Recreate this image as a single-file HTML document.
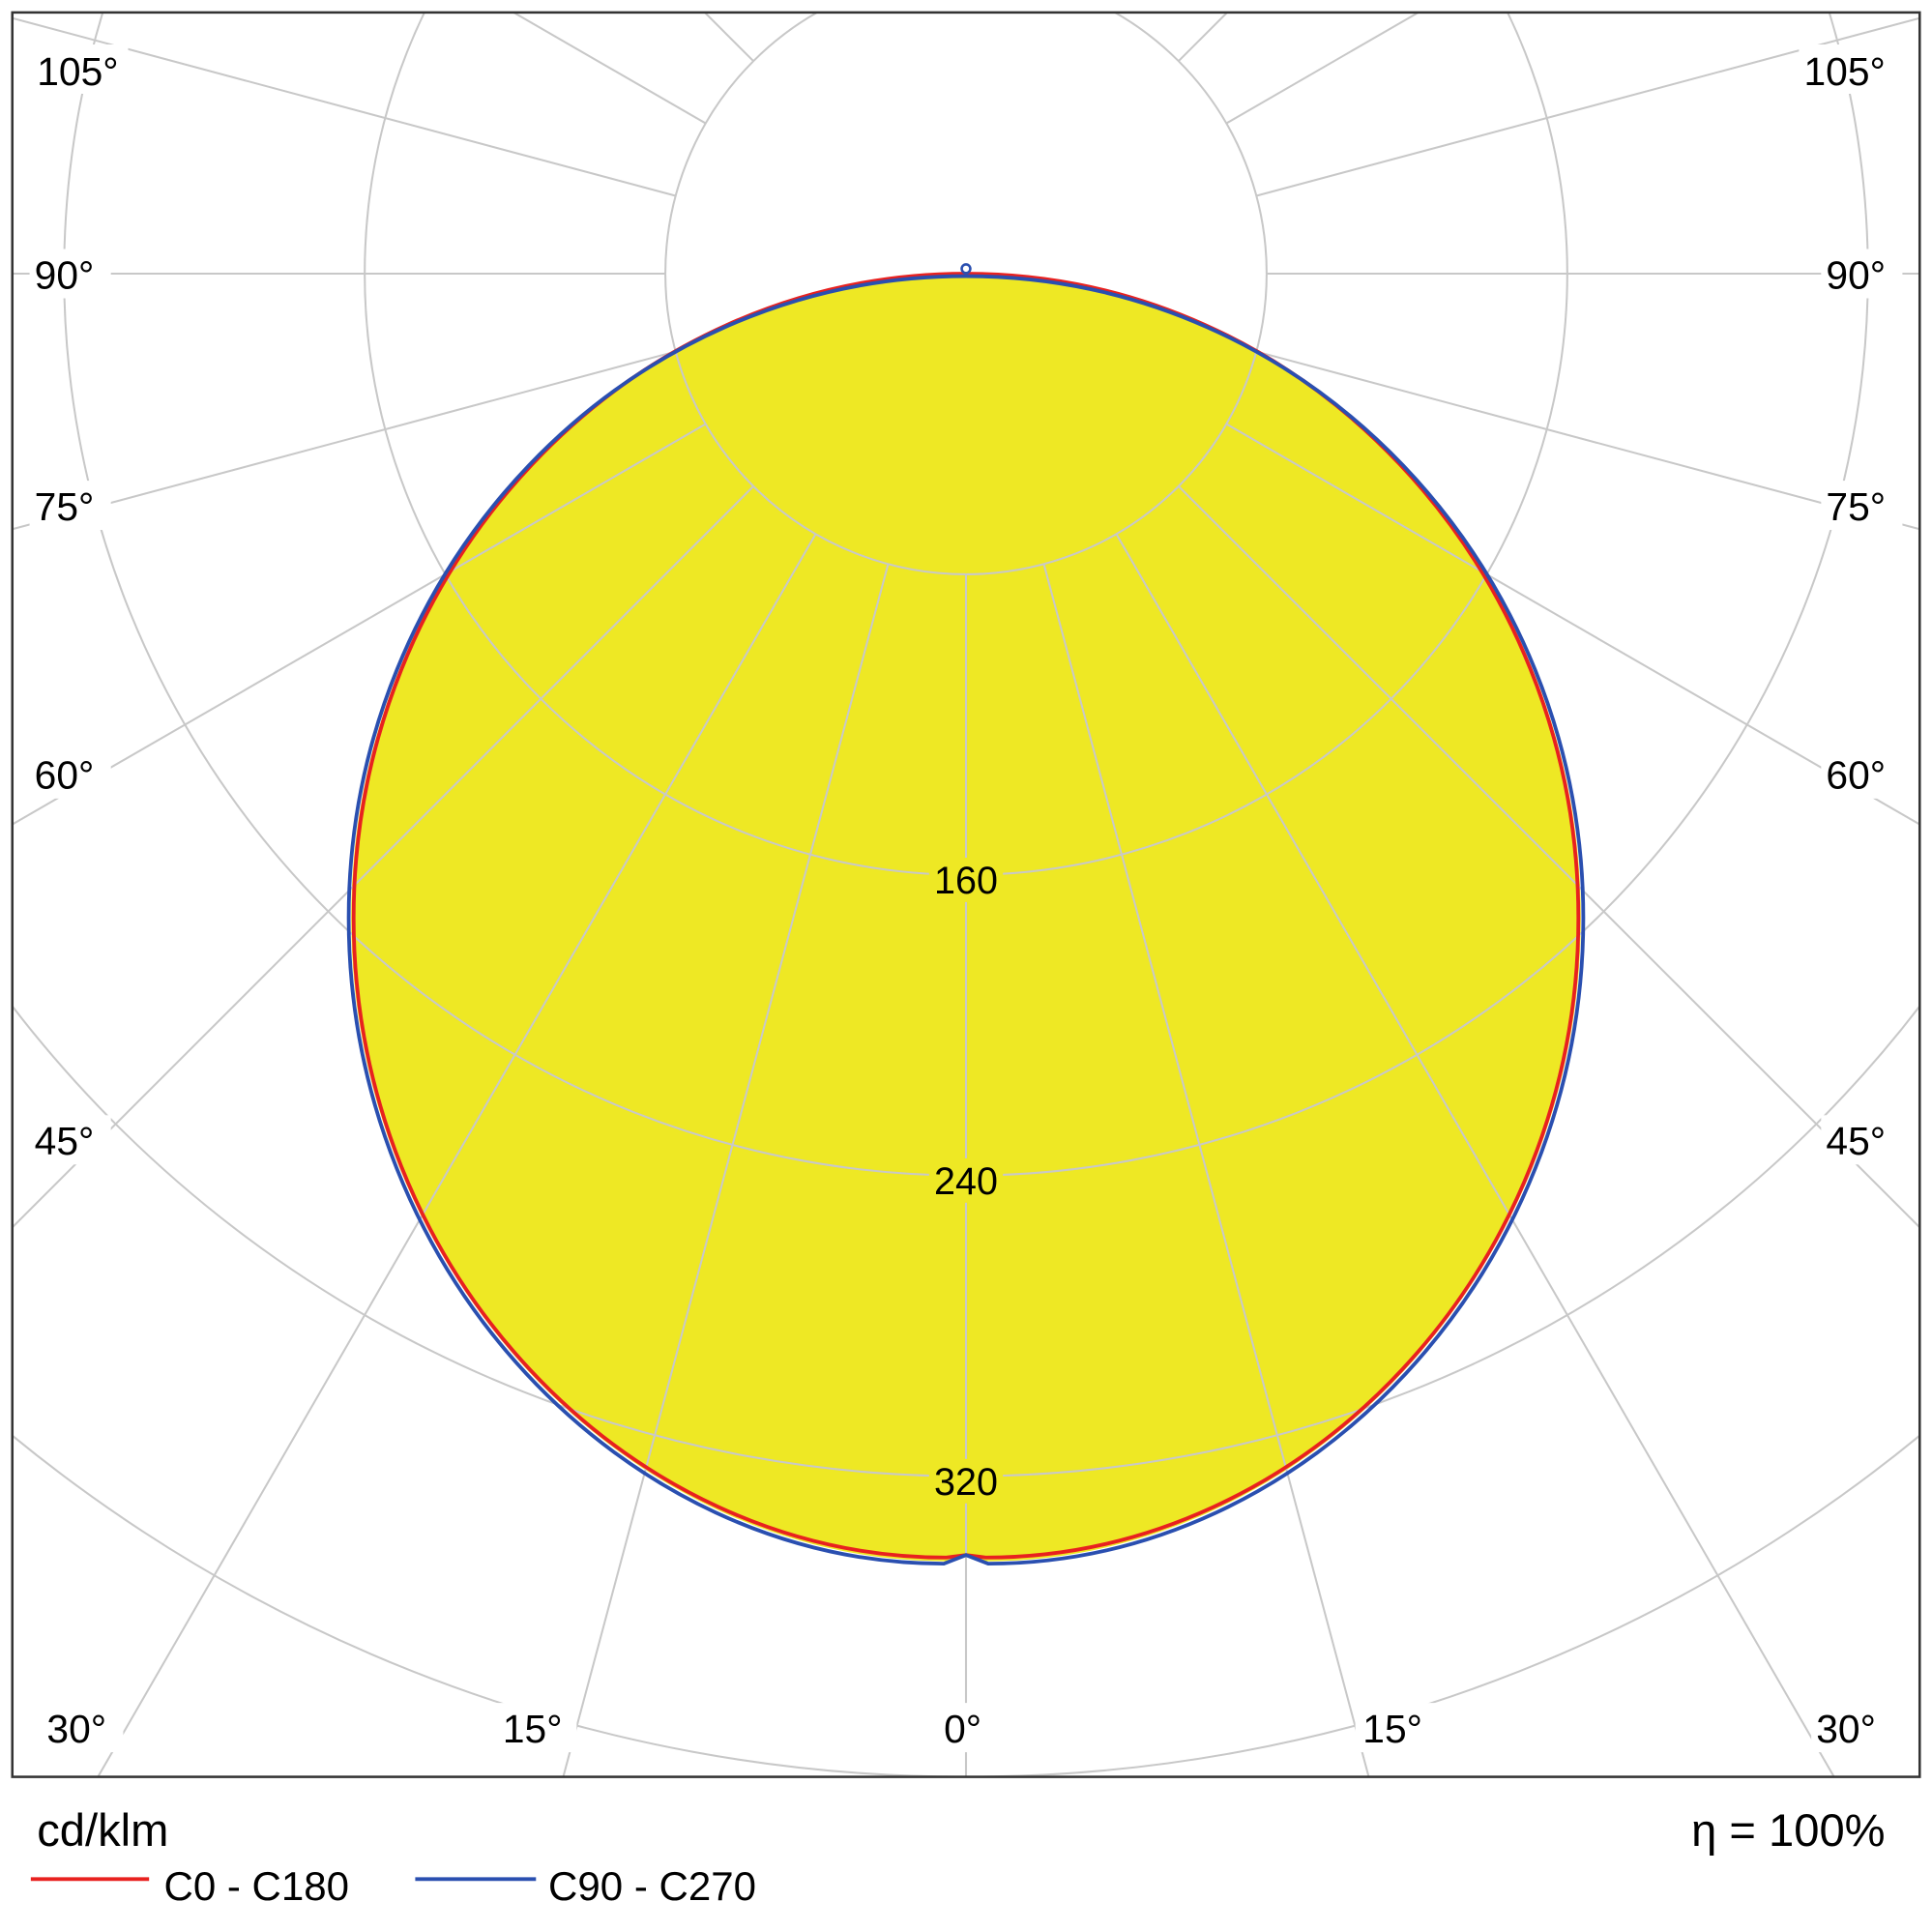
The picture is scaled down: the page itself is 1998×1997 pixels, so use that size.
<!DOCTYPE html>
<html><head><meta charset="utf-8"><style>
html,body{margin:0;padding:0;background:#fff;width:1998px;height:1997px;overflow:hidden}
svg{display:block}
text{font-family:"Liberation Sans","DejaVu Sans",sans-serif;fill:#000}
</style></head><body>
<svg width="1998" height="1997" viewBox="0 0 1568 1567" xmlns="http://www.w3.org/2000/svg">
<defs><clipPath id="c"><rect x="10" y="10" width="1548" height="1432"/></clipPath></defs>
<rect x="0" y="0" width="1568" height="1567" fill="#fff"/>
<g clip-path="url(#c)">
<path d="M784,222 C1060,222 1283,460 1283,745 C1283,1030 1060,1267 800,1267 L784,1262 L768,1267 C508,1267 285,1030 285,745 C285,460 508,222 784,222 Z" fill="#EEE824"/>
<g fill="none" stroke="#c8c8c8" stroke-width="1.6">
<circle cx="784" cy="222" r="244"/>
<circle cx="784" cy="222" r="488"/>
<circle cx="784" cy="222" r="732"/>
<circle cx="784" cy="222" r="976"/>
<circle cx="784" cy="222" r="1220"/>
<circle cx="784" cy="222" r="1464"/>
<circle cx="784" cy="222" r="1708"/>
<g id="rl">
<line x1="784" y1="466" x2="784" y2="2400"/>
<line x1="847.2" y1="457.7" x2="1405" y2="2540"/>
<line x1="906" y1="433.3" x2="1984" y2="2300"/>
<line x1="956.5" y1="394.5" x2="2480" y2="1918"/>
<line x1="995.3" y1="344" x2="2862" y2="1422"/>
<line x1="1019.7" y1="285.2" x2="3102" y2="843"/>
<line x1="1028" y1="222" x2="3200" y2="222"/>
<line x1="1019.7" y1="158.8" x2="3102" y2="-399"/>
<line x1="995.3" y1="100" x2="2862" y2="-978"/>
<line x1="956.5" y1="49.5" x2="2480" y2="-1474"/>
</g>
<use href="#rl" transform="translate(1568,0) scale(-1,1)"/>
</g>
<path d="M784,222 C1060,222 1281,460 1281,745 C1281,1030 1060,1264 800,1264 L784,1262 L768,1264 C508,1264 287,1030 287,745 C287,460 508,222 784,222 Z" fill="none" stroke="#e8211f" stroke-width="3"/>
<path d="M784,224 C1062,224 1285,460 1285,745 C1285,1032 1062,1269 802,1269 L784,1262 L766,1269 C506,1269 283,1032 283,745 C283,460 506,224 784,224 Z" fill="none" stroke="#2a4fb0" stroke-width="3"/>
<circle cx="784" cy="218" r="3.5" fill="none" stroke="#2a4fb0" stroke-width="2"/>
<g font-size="31" text-anchor="middle">
<rect x="754" y="696" width="60" height="36" fill="#EEE824"/><text x="784" y="725">160</text>
<rect x="754" y="940" width="60" height="36" fill="#EEE824"/><text x="784" y="969">240</text>
<rect x="754" y="1184" width="60" height="36" fill="#EEE824"/><text x="784" y="1213">320</text>
</g>
<g font-size="32">
<rect x="24" y="36" width="80" height="40" fill="#fff"/><text x="30" y="69">105°</text>
<rect x="24" y="202" width="66" height="40" fill="#fff"/><text x="28" y="234">90°</text>
<rect x="24" y="390" width="66" height="40" fill="#fff"/><text x="28" y="422">75°</text>
<rect x="24" y="608" width="66" height="40" fill="#fff"/><text x="28" y="640">60°</text>
<rect x="24" y="905" width="66" height="40" fill="#fff"/><text x="28" y="937">45°</text>
<rect x="34" y="1382" width="66" height="40" fill="#fff"/><text x="38" y="1414">30°</text>
<rect x="402" y="1382" width="66" height="40" fill="#fff"/><text x="408" y="1414">15°</text>
<rect x="760" y="1382" width="50" height="40" fill="#fff"/><text x="766" y="1414">0°</text>
<rect x="1100" y="1382" width="66" height="40" fill="#fff"/><text x="1106" y="1414">15°</text>
<rect x="1470" y="1382" width="66" height="40" fill="#fff"/><text x="1474" y="1414">30°</text>
<rect x="1460" y="36" width="80" height="40" fill="#fff"/><text x="1464" y="69">105°</text>
<rect x="1478" y="202" width="66" height="40" fill="#fff"/><text x="1482" y="234">90°</text>
<rect x="1478" y="390" width="66" height="40" fill="#fff"/><text x="1482" y="422">75°</text>
<rect x="1478" y="608" width="66" height="40" fill="#fff"/><text x="1482" y="640">60°</text>
<rect x="1478" y="905" width="66" height="40" fill="#fff"/><text x="1482" y="937">45°</text>
</g>
</g>
<rect x="10" y="10" width="1548" height="1432" fill="none" stroke="#333" stroke-width="2"/>
<text x="30" y="1498" font-size="37">cd/klm</text>
<text x="1530" y="1498" font-size="37" text-anchor="end">η = 100%</text>
<line x1="25" y1="1525" x2="121" y2="1525" stroke="#e8211f" stroke-width="3"/>
<text x="133" y="1542" font-size="33">C0 - C180</text>
<line x1="337" y1="1525" x2="435" y2="1525" stroke="#2a4fb0" stroke-width="3"/>
<text x="445" y="1542" font-size="33">C90 - C270</text>
</svg>
</body></html>
